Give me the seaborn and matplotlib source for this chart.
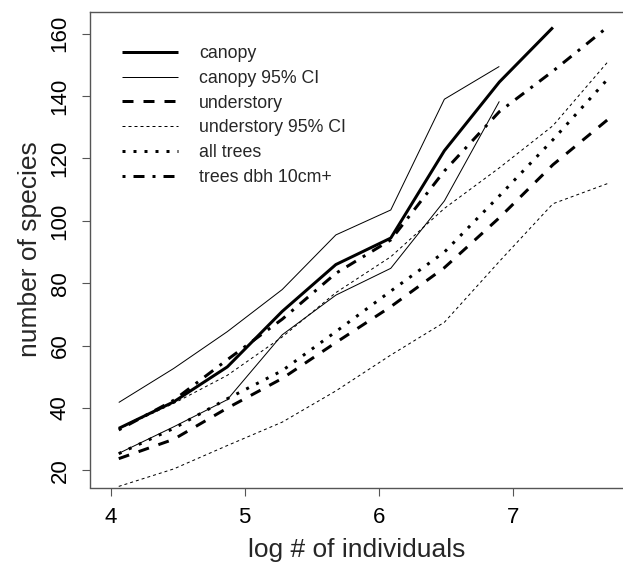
import matplotlib
matplotlib.use("Agg")
import matplotlib.pyplot as plt
import seaborn as sns
from matplotlib.lines import Line2D

# x positions (log # of individuals) shared by all curves
log_n = [4.06, 4.47, 4.87, 5.28, 5.68, 6.09, 6.49, 6.90, 7.30, 7.71]

canopy = [33.5, 42.0, 53.2, 71.0, 86.0, 94.5, 122.5, 144.5, 162.0]
canopy_hi = [41.8, 52.7, 64.5, 78.0, 95.5, 103.5, 139.0, 149.5]
canopy_lo = [25.5, 34.0, 42.7, 63.5, 76.2, 84.8, 106.4, 138.3]
understory = [23.8, 30.0, 40.0, 49.5, 61.0, 72.5, 85.0, 101.0, 118.0, 132.5]
understory_hi = [33.3, 41.5, 50.5, 62.8, 77.0, 88.5, 104.0, 117.0, 130.5, 151.0]
understory_lo = [14.9, 20.5, 28.0, 35.5, 45.5, 57.0, 67.5, 87.0, 105.5, 112.0]
all_trees = [25.4, 33.5, 43.0, 52.0, 64.5, 77.5, 90.0, 108.0, 126.0, 145.5]
trees_10cm = [33.0, 42.5, 55.5, 68.5, 83.2, 93.9, 116.0, 135.0, 148.0, 162.2]

legend_labels = ["canopy", "canopy 95% CI", "understory", "understory 95% CI",
                 "all trees", "trees dbh 10cm+"]
y_ticks = [20, 40, 60, 80, 100, 120, 140, 160]
x_ticks = [4, 5, 6, 7]

sns.set_style("ticks")
plt.rcParams["font.family"] = ["Liberation Sans", "DejaVu Sans"]
plt.rcParams["lines.scale_dashes"] = False

px = 0.72  # points per pixel at dpi 100
styles = {
    "canopy": dict(linewidth=3 * px, linestyle="-"),
    "canopy 95% CI": dict(linewidth=1 * px, linestyle="-"),
    "understory": dict(linewidth=3 * px, linestyle=(0, (11 * px, 10 * px))),
    "understory 95% CI": dict(linewidth=1 * px, linestyle=(0, (3 * px, 3 * px))),
    "all trees": dict(linewidth=3 * px, linestyle=(0, (3 * px, 8 * px))),
    "trees dbh 10cm+": dict(linewidth=3 * px, linestyle=(0, (3 * px, 8 * px, 11 * px, 8 * px))),
}

curves = [
    ("canopy 95% CI", canopy_hi), ("canopy 95% CI", canopy_lo),
    ("understory 95% CI", understory_hi), ("understory 95% CI", understory_lo),
    ("understory", understory), ("all trees", all_trees),
    ("trees dbh 10cm+", trees_10cm), ("canopy", canopy),
]

fig = plt.figure(figsize=(6.23, 5.69), dpi=100)
ax = fig.add_axes([90 / 623, 1 - 487.5 / 569, 533 / 623, 475.8 / 569])

for name, yv in curves:
    sns.lineplot(x=log_n[:len(yv)], y=yv, ax=ax, color="black", errorbar=None,
                 dash_capstyle="butt", solid_capstyle="butt", **styles[name])

ax.set_xlim(3.8455, 7.823)
ax.set_ylim(14.55, 167.05)
ax.set_xticks(x_ticks)
ax.set_yticks(y_ticks)

for side in ["left", "bottom", "top"]:
    ax.spines[side].set_color("#555555")
    ax.spines[side].set_linewidth(1.0)
ax.spines["right"].set_visible(False)

ax.tick_params(direction="out", length=6, width=0.8, color="#555555",
               labelsize=16, labelcolor="black")
ax.tick_params(axis="y", labelrotation=90, pad=8)
ax.tick_params(axis="x", pad=8)
for lab in ax.get_yticklabels():
    lab.set_va("center")

ax.set_xlabel("log # of individuals", fontsize=19)
ax.set_ylabel("number of species", fontsize=19)
ax.xaxis.set_label_coords(0.5, -0.131)
ax.xaxis.label.set_va("center")
ax.yaxis.set_label_coords(-0.1126, 0.5)
ax.yaxis.label.set_va("center")

handles = [Line2D([], [], color="black", dash_capstyle="butt", solid_capstyle="butt",
                  **styles[n]) for n in legend_labels]
ax.legend(handles, legend_labels, loc="upper left", bbox_to_anchor=(0.06, 0.93),
          frameon=False, fontsize=12.8, handlelength=3.15, handletextpad=1.2,
          labelspacing=0.44, borderpad=0, borderaxespad=0)

fig.savefig("out.png", dpi=100)
